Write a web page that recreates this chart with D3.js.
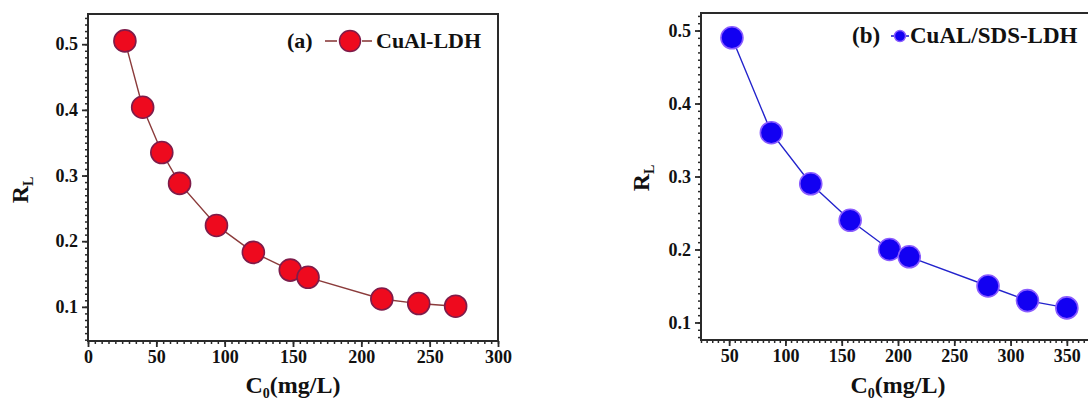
<!DOCTYPE html>
<html>
<head>
<meta charset="utf-8">
<script src="https://cdn.jsdelivr.net/npm/d3@7"></script>
<style>
  html, body { margin: 0; padding: 0; background: #fff; }
  svg { display: block; }
  text { font-family: "Liberation Serif", "Times New Roman", serif; font-weight: bold; fill: #111; }
</style>
</head>
<body>
<svg id="chart" width="1088" height="404"></svg>
<script>
// Separation factor R_L versus initial concentration C0
const cuAlC0 = [27, 40, 54, 67, 94, 121, 148, 161, 215, 242, 269];
const cuAlRL = [0.505, 0.404, 0.335, 0.288, 0.224, 0.183, 0.156, 0.145, 0.112, 0.105, 0.101];

const sdsC0 = [52.5, 87.5, 122.5, 157.5, 192.5, 210, 280, 315, 350];
const sdsRL = [0.49, 0.36, 0.29, 0.24, 0.20, 0.19, 0.15, 0.13, 0.12];

const xTicksA = [0, 50, 100, 150, 200, 250, 300];
const xTicksB = [50, 100, 150, 200, 250, 300, 350];
const yTicks = [0.1, 0.2, 0.3, 0.4, 0.5];

const serif = '"Liberation Serif", "Times New Roman", serif';
const svg = d3.select("#chart");

function range(a, b, step) {
  const out = [];
  for (let v = a; v <= b + 1e-9; v += step) out.push(+v.toFixed(4));
  return out;
}

function styleAxis(a, width) {
  a.select(".domain").remove();
  a.attr("font-family", serif).style("font-family", serif).attr("font-weight", "bold");
  a.selectAll("line").attr("stroke", "#2a2a2a").attr("stroke-width", width);
  a.selectAll("text").attr("font-size", 18).style("font-family", serif)
    .style("font-weight", "bold").attr("fill", "#111");
}

function panel(cfg) {
  const x = d3.scaleLinear().domain(cfg.xDomain).range([cfg.left, cfg.right]);
  const y = d3.scaleLinear().domain(cfg.yDomain).range([cfg.bottom, cfg.top]);
  const g = svg.append("g");

  // frame
  g.append("rect")
    .attr("x", cfg.left).attr("y", cfg.top)
    .attr("width", cfg.right - cfg.left).attr("height", cfg.bottom - cfg.top)
    .attr("fill", "none").attr("stroke", "#2a2a2a").attr("stroke-width", 2);

  // minor ticks
  const xMinor = range(cfg.xDomain[0], cfg.xDomain[1], 5);
  const yMinor = range(Math.ceil(cfg.yDomain[0] * 100) / 100, cfg.yDomain[1], 0.01);
  g.append("g").attr("transform", `translate(0,${cfg.bottom})`)
    .call(d3.axisBottom(x).tickValues(xMinor).tickSize(3).tickFormat(""))
    .call(a => styleAxis(a, 1.5));
  g.append("g").attr("transform", `translate(${cfg.left},0)`)
    .call(d3.axisLeft(y).tickValues(yMinor).tickSize(3).tickFormat(""))
    .call(a => styleAxis(a, 1.5));

  // major ticks with labels
  g.append("g").attr("transform", `translate(0,${cfg.bottom})`)
    .call(d3.axisBottom(x).tickValues(cfg.xTicks).tickSize(6).tickPadding(3).tickFormat(d3.format("d")))
    .call(a => styleAxis(a, 1.8));
  g.append("g").attr("transform", `translate(${cfg.left},0)`)
    .call(d3.axisLeft(y).tickValues(yTicks).tickSize(6).tickPadding(4).tickFormat(d3.format(".1f")))
    .call(a => styleAxis(a, 1.8));

  // series line and markers
  const pts = cfg.xs.map((v, i) => [v, cfg.ys[i]]);
  g.append("path")
    .datum(pts)
    .attr("d", d3.line().x(d => x(d[0])).y(d => y(d[1])))
    .attr("fill", "none").attr("stroke", cfg.lineColor).attr("stroke-width", 1.4);
  g.selectAll("circle.pt").data(pts).join("circle")
    .attr("class", "pt")
    .attr("cx", d => x(d[0])).attr("cy", d => y(d[1]))
    .attr("r", 11)
    .attr("fill", cfg.fill).attr("stroke", cfg.stroke).attr("stroke-width", 1.6);

  // axis titles
  const xt = g.append("text")
    .attr("x", (cfg.left + cfg.right) / 2).attr("y", cfg.xTitleY)
    .attr("text-anchor", "middle").attr("font-size", 24);
  xt.append("tspan").text("C");
  xt.append("tspan").attr("font-size", 14).attr("dy", 5).text("0");
  xt.append("tspan").attr("dy", -5).text("(mg/L)");

  const yt = g.append("text")
    .attr("transform", `translate(${cfg.yTitleX},${cfg.yTitleY}) rotate(-90)`)
    .attr("text-anchor", "middle").attr("font-size", 24);
  yt.append("tspan").text("R");
  yt.append("tspan").attr("font-size", 14).attr("dy", 5).text("L");

  // legend
  const lg = cfg.legend;
  g.append("text").attr("x", lg.tagX).attr("y", lg.y + 7).attr("font-size", lg.size).text(lg.tag);
  g.append("line").attr("x1", lg.d1[0]).attr("x2", lg.d1[1]).attr("y1", lg.y).attr("y2", lg.y)
    .attr("stroke", cfg.lineColor).attr("stroke-width", 1.6);
  g.append("line").attr("x1", lg.d2[0]).attr("x2", lg.d2[1]).attr("y1", lg.y).attr("y2", lg.y)
    .attr("stroke", cfg.lineColor).attr("stroke-width", 1.6);
  g.append("circle").attr("cx", lg.mx).attr("cy", lg.y).attr("r", lg.r)
    .attr("fill", cfg.fill).attr("stroke", cfg.stroke).attr("stroke-width", 1.4);
  g.append("text").attr("x", lg.textX).attr("y", lg.y + 7).attr("font-size", lg.size).text(lg.label);
}

panel({
  left: 88, right: 498, top: 14, bottom: 341,
  xDomain: [0, 300], yDomain: [0.048, 0.546],
  xTicks: xTicksA, xs: cuAlC0, ys: cuAlRL,
  fill: "#ee0a1e", stroke: "#7e1c4a", lineColor: "#8b3b3b",
  xTitleY: 393, yTitleX: 28, yTitleY: 190,
  legend: { tag: "(a)", tagX: 287, y: 41, d1: [325, 337], d2: [362, 372], mx: 350, r: 10.5,
            textX: 376, label: "CuAl-LDH", size: 22 }
});

panel({
  left: 701, right: 1095, top: 13, bottom: 340,
  xDomain: [25, 375], yDomain: [0.076, 0.524],
  xTicks: xTicksB, xs: sdsC0, ys: sdsRL,
  fill: "#1200f2", stroke: "#8a5cff", lineColor: "#2323cc",
  xTitleY: 393, yTitleX: 649, yTitleY: 178,
  legend: { tag: "(b)", tagX: 852, y: 36, d1: [891, 897], d2: [903, 909], mx: 900, r: 5.5,
            textX: 910, label: "CuAL/SDS-LDH", size: 23 }
});
</script>
</body>
</html>
